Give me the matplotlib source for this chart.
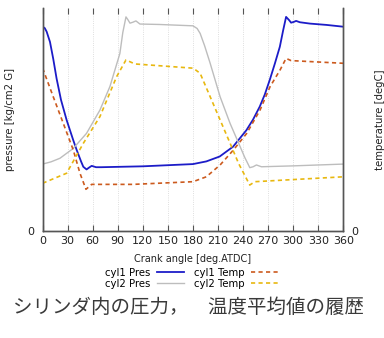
import matplotlib
matplotlib.use("Agg")
import matplotlib.pyplot as plt

# crank angle [deg] / pressure [kg/cm2 G] / temperature [degC]
cyl1_pres_deg = [0, 2.5, 4.8, 8.8, 12.7, 16.7, 22, 28.7, 36.6, 40.7, 46, 48.7, 52.6, 55.5, 58.7,
                 64, 70, 120, 180, 196, 212, 228, 244, 252, 260, 266, 272, 278, 284, 288,
                 291.5, 295, 297.5, 301, 303.5, 308, 320, 340, 360]
cyl1_pres = [45.8, 45.5, 44.7, 42.4, 38.6, 34.2, 29.4, 24.9, 20.4, 18.2, 15.6, 14.4, 13.8, 14.2, 14.6,
             14.3, 14.3, 14.5, 15.0, 15.6, 16.7, 18.9, 22.6, 25.0, 27.9, 30.6, 33.9, 37.5, 41.3, 45.0,
             48.0, 47.3, 46.7, 46.9, 47.1, 46.8, 46.5, 46.2, 45.8]

cyl2_pres_deg = [0, 10, 20.7, 36.6, 52.6, 68.6, 80.6, 92.5, 96, 99.8, 102, 104.6, 108, 111.7,
                 116.5, 140, 180, 185, 188.6, 194, 200.6, 212.5, 224.5, 236.5, 242, 246.5, 248,
                 252, 256, 262, 300, 360]
cyl2_pres = [15.0, 15.5, 16.3, 18.5, 21.9, 27.1, 32.4, 39.8, 44.5, 48.0, 47.4, 46.6, 46.8, 47.1,
             46.4, 46.3, 46.0, 45.4, 44.3, 41.5, 37.6, 30.1, 24.1, 18.9, 16.5, 14.8, 14.2,
             14.4, 14.8, 14.4, 14.6, 15.0]

cyl1_temp_deg = [0, 12.7, 24.7, 36.7, 44.7, 51.9, 58.7, 108, 180, 196, 212.5, 228.4, 244.4,
                 260.4, 272.3, 284.3, 291.5, 297.5, 360]
cyl1_temp = [730, 602, 483, 363, 259, 187, 209, 209, 221, 243, 296, 363, 438,
             543, 647, 722, 774, 764, 752]

cyl2_temp_deg = [0, 28.7, 48.7, 68.6, 88.6, 99.8, 110.5, 180.4, 188.6, 200.6, 212.5, 224.5,
                 234.5, 248, 254, 360]
cyl2_temp = [214, 259, 393, 513, 692, 767, 749, 730, 707, 602, 498, 393,
             304, 206, 221, 243]

xticks = list(range(0, 361, 30))

fig = plt.figure(figsize=(3.84, 3.38), dpi=100)
ax = fig.add_axes([0.111, 0.3166, 0.783, 0.6598])
ax2 = ax.twinx()

l1, = ax.plot(cyl1_pres_deg, cyl1_pres, color="#1c1cc8", lw=1.3, label="cyl1 Pres")
l2, = ax.plot(cyl2_pres_deg, cyl2_pres, color="#bdbdbd", lw=1.0, label="cyl2 Pres")
l3, = ax2.plot(cyl1_temp_deg, cyl1_temp, color="#cc5a1e", lw=1.2, ls=(0, (2.5, 2)), label="cyl1 Temp")
l4, = ax2.plot(cyl2_temp_deg, cyl2_temp, color="#e8b810", lw=1.2, ls=(0, (2.5, 2)), label="cyl2 Temp")

ax.set_xlim(0, 360)
ax.set_ylim(0, 50)
ax2.set_ylim(0, 1000)
ax.set_xticks(xticks)
ax.set_yticks([0])
ax2.set_yticks([0])

for a in (ax, ax2):
    a.spines["top"].set_visible(False)
    for s in ("left", "right", "bottom"):
        a.spines[s].set_color("#555555")
        a.spines[s].set_linewidth(1.0)

ax.tick_params(axis="x", direction="in", top=True, length=4, width=0.8, colors="#555555",
               labelcolor="#222222", labelsize=8)
ax.tick_params(axis="y", length=0, labelsize=8, labelcolor="#222222", pad=6)
ax2.tick_params(axis="y", length=0, labelsize=8, labelcolor="#222222", pad=6)
ax.grid(axis="x", linestyle=":", color="#d4d4d4", linewidth=0.6)

ax.set_xlabel("Crank angle [deg.ATDC]", fontsize=7, color="#222222", labelpad=6)
ax.set_ylabel("pressure [kg/cm2 G]", fontsize=7.3, color="#222222")
ax2.set_ylabel("temperature [degC]", fontsize=7.3, color="#222222")
ax.yaxis.set_label_coords(-0.092, 0.5)
ax2.yaxis.set_label_coords(1.105, 0.5)

fig.legend(handles=[l1, l2, l3, l4], ncol=2, loc="center", bbox_to_anchor=(0.5, 0.176),
           frameon=False, markerfirst=False, fontsize=7.3, handlelength=2.7,
           labelspacing=0.1, columnspacing=1.0, handletextpad=0.6)

fig.text(0.49, 0.089, "シリンダ内の圧力，　温度平均値の履歴", ha="center", va="center",
         fontsize=14, color="#3a3a3a", family=["Noto Sans CJK JP", "DejaVu Sans"])

fig.savefig("out.png", dpi=100)
